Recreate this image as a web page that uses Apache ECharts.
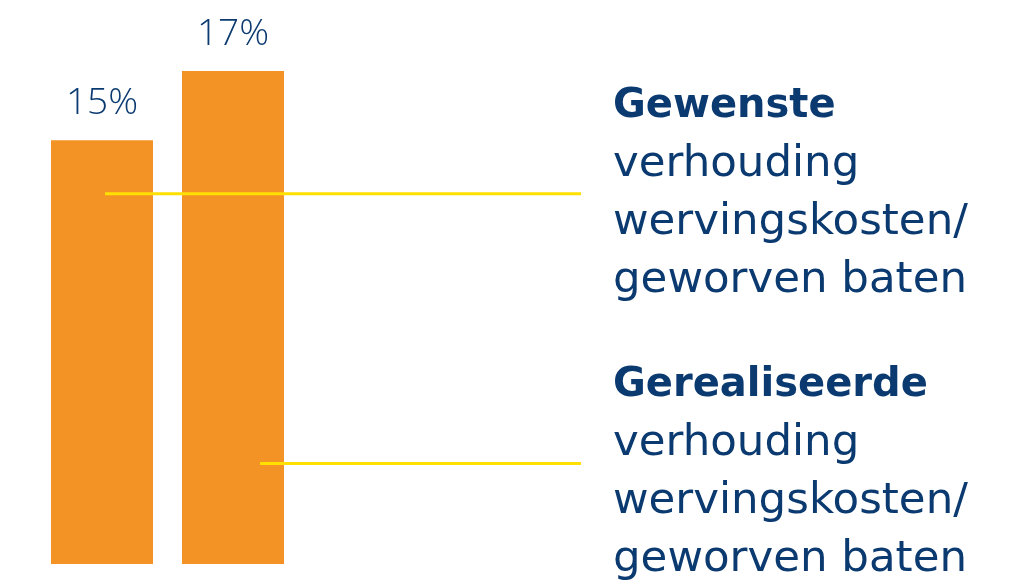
<!DOCTYPE html>
<html>
<head>
<meta charset="utf-8">
<script src="https://cdn.jsdelivr.net/npm/echarts@6/dist/echarts.min.js"></script>
<style>
  html, body { margin: 0; padding: 0; background: #fff; }
  #chart { width: 1026px; height: 580px; }
</style>
</head>
<body>
<div id="chart"></div>
<script>
///////////////////////////////////////////////////
// Data
///////////////////////////////////////////////////
var categories = ['Gewenste', 'Gerealiseerde'];
var ratios = [15, 17];
// level (same scale as the bars) where each yellow pointer leaves its bar
var pointerLevels = [13.45, 5.65];
var legendTitles = ['Gewenste', 'Gerealiseerde'];
var legendLines = ['verhouding', 'wervingskosten/', 'geworven baten'];

var blue = '#0b3a70';
var orange = '#f39325';
var yellow = '#ffe000';
var labelFont = '"Open Sans", Lato, sans-serif';
var textFont = '"DejaVu Sans", sans-serif';

///////////////////////////////////////////////////
// Chart
///////////////////////////////////////////////////
var myChart = echarts.init(document.getElementById('chart'), null, { renderer: 'canvas' });

var option = {
  animation: false,
  grid: { left: 36.5, width: 262, top: 71, bottom: 16 },
  xAxis: {
    type: 'category',
    data: categories,
    show: false,
  },
  yAxis: {
    type: 'value',
    min: 2.74,
    max: 17,
    show: false,
  },
  series: [
    {
      type: 'bar',
      data: ratios,
      barWidth: 102,
      itemStyle: { color: orange },
      label: {
        show: true,
        position: 'top',
        distance: 18,
        formatter: '{c}%',
        color: blue,
        fontFamily: labelFont,
        fontWeight: 300,
        fontSize: 37,
      },
    },
  ],
};
myChart.setOption(option);

// yellow pointer lines and the text blocks they point to
var startOffsets = [3, 27];
var graphics = [];
pointerLevels.forEach(function (v, i) {
  var p = myChart.convertToPixel({ gridIndex: 0 }, [categories[i], v]);
  graphics.push({
    type: 'line',
    shape: { x1: p[0] + startOffsets[i], y1: p[1], x2: 581, y2: p[1] },
    style: { stroke: yellow, lineWidth: 3 },
    z: 10,
  });
});
legendTitles.forEach(function (t, i) {
  graphics.push({
    type: 'text',
    left: 613,
    top: 78 + i * 279,
    style: {
      text: '{b|' + t + '}\n' + legendLines.join('\n'),
      fill: blue,
      font: 'normal 43.5px ' + textFont,
      lineHeight: 58,
      rich: {
        b: { fontWeight: 'bold', fontSize: 40, fontFamily: textFont, fill: blue, lineHeight: 58 },
      },
    },
  });
});
myChart.setOption({ graphic: graphics });
</script>
</body>
</html>
